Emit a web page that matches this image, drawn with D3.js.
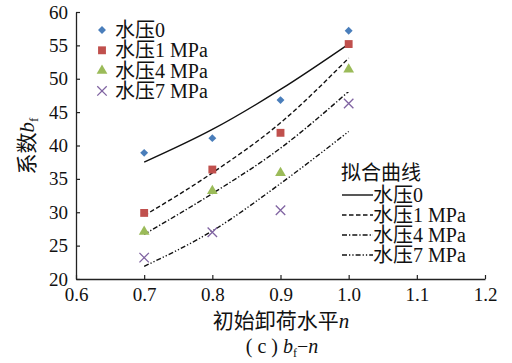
<!DOCTYPE html>
<html>
<head>
<meta charset="utf-8">
<script src="https://cdn.jsdelivr.net/npm/d3@7"></script>
<style>
  html, body { margin: 0; padding: 0; background: #fff; }
  svg text { font-family: "Liberation Serif", "Times New Roman", "Noto Sans CJK SC", serif; fill: #111; }
</style>
</head>
<body>
<svg id="chart" width="512" height="363"></svg>
<script>
// Unloading level n (x) and coefficient b_f (y)
const levels = [0.7, 0.8, 0.9, 1.0];
const seriesNames = ["水压0", "水压1 MPa", "水压4 MPa", "水压7 MPa"];

// Measured points
const pts0 = [38.9, 41.1, 46.8, 57.2];
const pts1 = [29.9, 36.4, 41.9, 55.2];
const pts4 = [27.1, 33.2, 35.9, 51.4];
const pts7 = [23.2, 27.0, 30.3, 46.3];

// Fitted curves evaluated at the same levels
const fit0 = [37.5, 42.4, 48.4, 55.2];
const fit1 = [29.5, 35.9, 43.4, 53.1];
const fit4 = [26.7, 32.8, 39.6, 48.1];
const fit7 = [21.9, 27.2, 34.3, 42.1];

const xTicks = [0.6, 0.7, 0.8, 0.9, 1.0, 1.1, 1.2];
const yTicks = [20, 25, 30, 35, 40, 45, 50, 55, 60];

const colors = ["#4a7ebb", "#c0504d", "#9bbb59", "#8064a2"];
const dashes = [null, "4.5,2.5", "5,2,1.3,2", "5,2,1.3,2,1.3,2"];

const svg = d3.select("#chart");
const x = d3.scaleLinear().domain([0.6, 1.2]).range([76, 485]);
const y = d3.scaleLinear().domain([20, 60]).range([279, 12]);

// Axes with inward ticks
const xAxis = svg.append("g").attr("transform", `translate(0,${y(20)})`)
  .call(d3.axisBottom(x).tickValues(xTicks).tickSizeInner(-4).tickSizeOuter(0)
    .tickFormat(d3.format(".1f")).tickPadding(9));
const yAxis = svg.append("g").attr("transform", `translate(${x(0.6)},0)`)
  .call(d3.axisLeft(y).tickValues(yTicks).tickSizeInner(-4).tickSizeOuter(0).tickPadding(8));
[xAxis, yAxis].forEach(g => {
  g.select(".domain").attr("stroke", "#222").attr("stroke-width", 1.3);
  g.selectAll(".tick line").attr("stroke", "#222").attr("stroke-width", 1.2);
  g.selectAll(".tick text").style("font-size", "19px").attr("fill", "#111")
    .style("font-family", '"Liberation Serif", serif');
});

// Fitted curves
const fits = [fit0, fit1, fit4, fit7];
const line = d3.line().x(d => x(d[0])).y(d => y(d[1])).curve(d3.curveMonotoneX);
fits.forEach((f, i) => {
  svg.append("path")
    .attr("d", line(levels.map((n, k) => [n, f[k]])))
    .attr("fill", "none").attr("stroke", "#111").attr("stroke-width", 1.4)
    .attr("stroke-dasharray", dashes[i]);
});

// Markers
const symbols = [
  d3.symbol().type(d3.symbolDiamond2).size(40),
  d3.symbol().type(d3.symbolSquare).size(62),
  d3.symbol().type(d3.symbolTriangle).size(50),
  d3.symbol().type(d3.symbolX).size(60)
];
function drawMarker(g, i, cx, cy) {
  const p = g.append("path").attr("d", symbols[i]()).attr("transform", `translate(${cx},${cy})`);
  if (i === 3) p.attr("fill", "none").attr("stroke", colors[i]).attr("stroke-width", 1.3);
  else p.attr("fill", colors[i]);
}
[pts0, pts1, pts4, pts7].forEach((s, i) => {
  s.forEach((v, k) => drawMarker(svg, i, x(levels[k]), y(v)));
});

// Marker legend
const leg1 = svg.append("g");
seriesNames.forEach((name, i) => {
  const yy = 30 + i * 20.3;
  drawMarker(leg1, i, 102, yy);
  leg1.append("text").attr("x", 115).attr("y", yy + 7).style("font-size", "20px").text(name);
});

// Fitted-curve legend
const leg2 = svg.append("g");
leg2.append("text").attr("x", 341).attr("y", 180).style("font-size", "20px").text("拟合曲线");
seriesNames.forEach((name, i) => {
  const yy = 195 + i * 20;
  leg2.append("line").attr("x1", 342).attr("x2", 373).attr("y1", yy).attr("y2", yy)
    .attr("stroke", "#111").attr("stroke-width", 1.4).attr("stroke-dasharray", dashes[i]);
  leg2.append("text").attr("x", 373).attr("y", yy + 7).style("font-size", "20px").text(name);
});

// Axis titles
const xt = svg.append("text").attr("x", 281).attr("y", 328).attr("text-anchor", "middle").style("font-size", "21px");
xt.append("tspan").text("初始卸荷水平");
xt.append("tspan").style("font-style", "italic").text("n");

const yt = svg.append("text").attr("transform", "translate(34,146) rotate(-90)")
  .attr("text-anchor", "middle").style("font-size", "21px");
yt.append("tspan").text("系数");
yt.append("tspan").style("font-style", "italic").text("b");
yt.append("tspan").style("font-size", "13px").attr("dy", 4).text("f");

// Caption
const cap = svg.append("text").attr("x", 282).attr("y", 353).attr("text-anchor", "middle").style("font-size", "20px");
cap.append("tspan").text("( c ) ");
cap.append("tspan").style("font-style", "italic").text("b");
cap.append("tspan").style("font-size", "12px").attr("dy", 4).text("f");
cap.append("tspan").attr("dy", -4).text("−");
cap.append("tspan").style("font-style", "italic").text("n");
</script>
</body>
</html>
